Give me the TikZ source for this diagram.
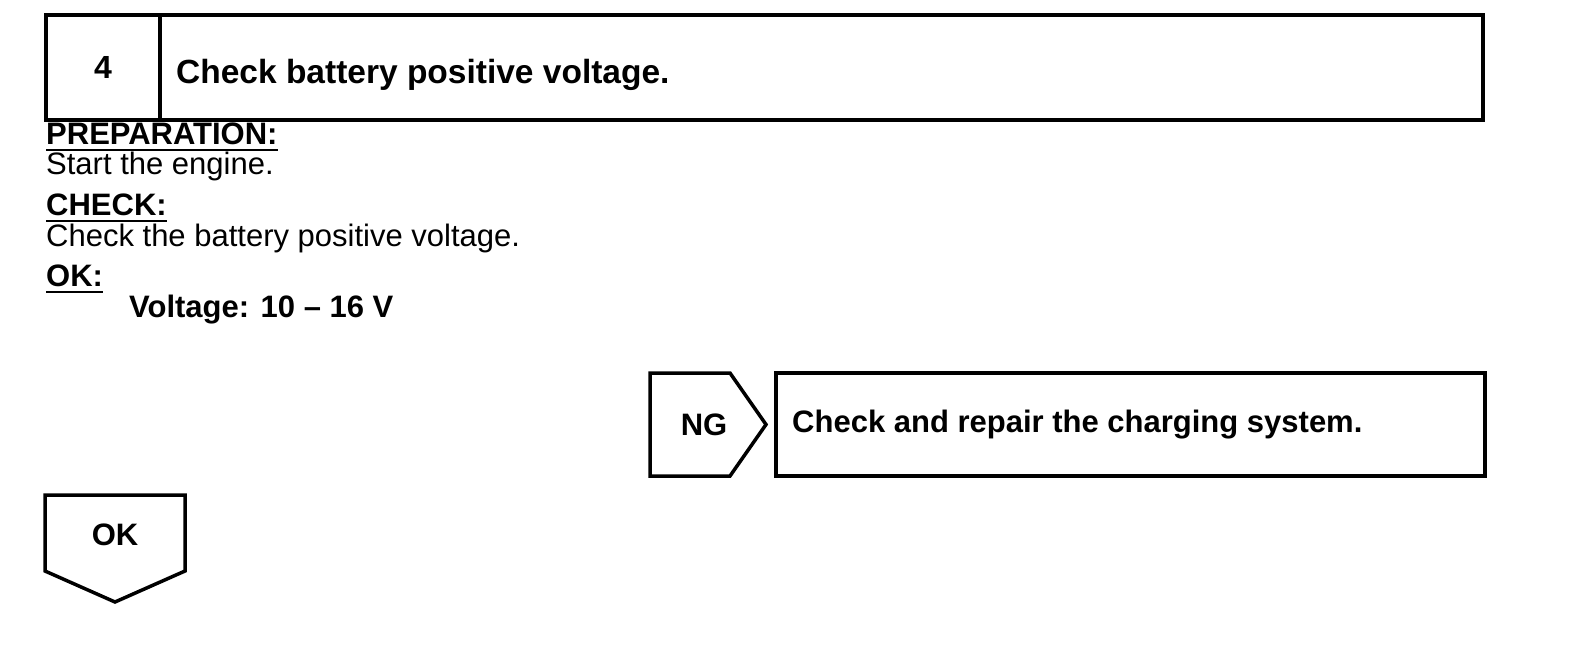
\documentclass[tikz,border=0pt]{standalone}
\usepackage{fontspec}
\setmainfont{Liberation Sans}
\begin{document}
\begin{tikzpicture}[x=1pt,y=-1pt,
  frame/.style={line width=3.5pt, line join=miter},
  bodytext/.style={inner sep=0pt, anchor=base west, font=\fontsize{31}{37}\selectfont},
  boldtext/.style={bodytext, font=\fontsize{31}{37}\selectfont\bfseries},
  uline/.style={line width=2pt}
]
\useasboundingbox (0,0) rectangle (1584,654);
% header
\node[frame, draw, minimum width=114pt, minimum height=105pt, inner sep=0pt,
  font=\fontsize{32}{38}\selectfont\bfseries] (num) at (103,67.5) {4};
\node[frame, draw, minimum width=1323pt, minimum height=105pt, inner sep=0pt] (titlebox) at (821.5,67.5) {};
\node[inner sep=0pt, anchor=base west, font=\fontsize{33.5}{40}\selectfont\bfseries] (title) at (176,83) {Check battery positive voltage.};
% body
\node[boldtext] (prep) at (46,144) {PREPARATION:};
\draw[uline] ([yshift=-6pt]prep.base west) -- ([yshift=-6pt]prep.base east);
\node[bodytext] (start) at (46,174) {Start the engine.};
\node[boldtext] (check) at (46,215) {CHECK:};
\draw[uline] ([yshift=-6pt]check.base west) -- ([yshift=-6pt]check.base east);
\node[bodytext] (checktxt) at (46,246) {Check the battery positive voltage.};
\node[boldtext] (ok) at (46,286) {OK:};
\draw[uline] ([yshift=-6pt]ok.base west) -- ([yshift=-6pt]ok.base east);
\node[boldtext] (volt) at (129,317) {Voltage: 10 -- 16 V};
% NG
\coordinate (ng1) at (650,373);
\coordinate (ng2) at (730,373);
\coordinate (ng3) at (766,424.5);
\coordinate (ng4) at (730,476);
\coordinate (ng5) at (650,476);
\draw[frame] (ng1) -- (ng2) -- (ng3) -- (ng4) -- (ng5) -- cycle;
\node[font=\fontsize{31}{37}\selectfont\bfseries, inner sep=0pt] (ng) at (704,425) {NG};
\node[frame, draw, minimum width=709pt, minimum height=103pt, inner sep=0pt] (ngbox) at (1130.5,424.5) {};
\node[boldtext, anchor=west] (repair) at (792,425) {Check and repair the charging system.};
% OK arrow
\coordinate (ok1) at (45,495);
\coordinate (ok2) at (185,495);
\coordinate (ok3) at (185,571);
\coordinate (ok4) at (115,602);
\coordinate (ok5) at (45,571);
\draw[frame] (ok1) -- (ok2) -- (ok3) -- (ok4) -- (ok5) -- cycle;
\node[font=\fontsize{31}{37}\selectfont\bfseries, inner sep=0pt] (okl) at (115,535) {OK};
\end{tikzpicture}
\end{document}
